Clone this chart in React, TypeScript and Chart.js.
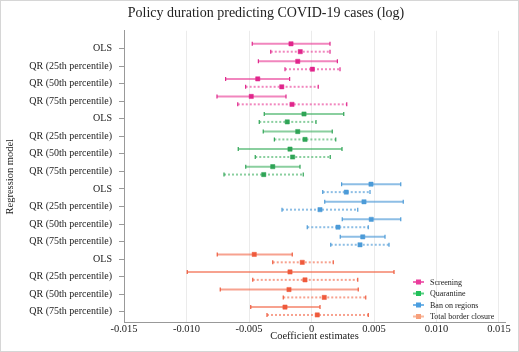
import React, { useEffect, useRef } from 'react';
import { Chart, registerables } from 'chart.js';

Chart.register(...registerables);

const chartTitle = 'Policy duration predicting COVID-19 cases (log)';
const xAxisTitle = 'Coefficient estimates';
const yAxisTitle = 'Regression model';

const models = ['OLS', 'QR (25th percentile)', 'QR (50th percentile)', 'QR (75th percentile)'];
const seriesNames = ['Screening', 'Quarantine', 'Ban on regions', 'Total border closure'];

const xTickValues = [-0.015, -0.01, -0.005, 0, 0.005, 0.01, 0.015];
const xTickLabels = ['-0.015', '-0.010', '-0.005', '0', '0.005', '0.010', '0.015'];

// Screening (solid = first specification, dotted = second specification)
const screeningSolidLow = [-0.00474, -0.00425, -0.00687, -0.00756];
const screeningSolidEst = [-0.00164, -0.0011, -0.0043, -0.00482];
const screeningSolidHigh = [0.00148, 0.00207, -0.00175, -0.00204];
const screeningDotLow = [-0.00326, -0.00212, -0.00527, -0.0059];
const screeningDotEst = [-0.0009, 0.00007, -0.00238, -0.00156];
const screeningDotHigh = [0.00148, 0.00228, 0.00054, 0.00282];

// Quarantine
const quarantineSolidLow = [-0.00378, -0.00386, -0.00586, -0.00526];
const quarantineSolidEst = [-0.0006, -0.0011, -0.00172, -0.0031];
const quarantineSolidHigh = [0.00258, 0.00166, 0.00244, -0.00092];
const quarantineDotLow = [-0.00418, -0.00297, -0.0045, -0.007];
const quarantineDotEst = [-0.00194, -0.00052, -0.00151, -0.00382];
const quarantineDotHigh = [0.00036, 0.00194, 0.0015, -0.00066];

// Ban on regions
const banSolidLow = [0.00241, 0.00106, 0.00246, 0.0023];
const banSolidEst = [0.00476, 0.0042, 0.00478, 0.0041];
const banSolidHigh = [0.00714, 0.00734, 0.00714, 0.00588];
const banDotLow = [0.0009, -0.00236, -0.00034, 0.00154];
const banDotEst = [0.00278, 0.00068, 0.00212, 0.00388];
const banDotHigh = [0.00468, 0.0037, 0.00454, 0.0062];

// Total border closure
const borderSolidLow = [-0.00754, -0.00994, -0.0073, -0.00486];
const borderSolidEst = [-0.00458, -0.00172, -0.0018, -0.00212];
const borderSolidHigh = [-0.00154, 0.0066, 0.00374, 0.00068];
const borderDotLow = [-0.0031, -0.0047, -0.00226, -0.00356];
const borderDotEst = [-0.00074, -0.00052, 0.00102, 0.00046];
const borderDotHigh = [0.00174, 0.0037, 0.00434, 0.00454];

const FONT = "'Liberation Serif', 'Times New Roman', serif";

const pointColors = ['#e0268c', '#2fa456', '#4c9bd8', '#ef5a3c'];
const lineColors = [
  'rgba(232,60,150,0.62)',
  'rgba(60,175,95,0.6)',
  'rgba(80,155,215,0.65)',
  'rgba(242,105,75,0.62)',
];
const legendColors = ['#ea3c9c', '#22c05a', '#4a9ee0', '#f7a07c'];

const seriesData = [
  {
    solid: { lo: screeningSolidLow, est: screeningSolidEst, hi: screeningSolidHigh },
    dot: { lo: screeningDotLow, est: screeningDotEst, hi: screeningDotHigh },
  },
  {
    solid: { lo: quarantineSolidLow, est: quarantineSolidEst, hi: quarantineSolidHigh },
    dot: { lo: quarantineDotLow, est: quarantineDotEst, hi: quarantineDotHigh },
  },
  {
    solid: { lo: banSolidLow, est: banSolidEst, hi: banSolidHigh },
    dot: { lo: banDotLow, est: banDotEst, hi: banDotHigh },
  },
  {
    solid: { lo: borderSolidLow, est: borderSolidEst, hi: borderSolidHigh },
    dot: { lo: borderDotLow, est: borderDotEst, hi: borderDotHigh },
  },
];

const rowLabels = seriesNames.flatMap(() => models);

const SOLID_OFFSET = -0.27;
const DOT_OFFSET = 0.18;

function buildDatasets() {
  const datasets: any[] = [];
  seriesData.forEach((s, si) => {
    (['solid', 'dot'] as const).forEach((kind) => {
      const d = s[kind];
      const off = kind === 'solid' ? SOLID_OFFSET : DOT_OFFSET;
      d.est.forEach((_, mi) => {
        const row = si * models.length + mi + off;
        datasets.push({
          type: 'line',
          order: 2,
          label: '',
          data: [
            { x: d.lo[mi], y: row },
            { x: d.hi[mi], y: row },
          ],
          borderColor: lineColors[si],
          borderWidth: 2,
          borderDash: kind === 'solid' ? [] : [2, 2],
          borderCapStyle: 'butt',
          pointStyle: 'line',
          pointRotation: 90,
          pointRadius: 2,
          pointBorderWidth: 1.2,
          pointBorderColor: pointColors[si],
          pointHoverRadius: 2,
          showLine: true,
          fill: false,
        });
      });
      datasets.push({
        type: 'scatter',
        order: 0,
        label: seriesNames[si],
        data: d.est.map((e, mi) => ({ x: e, y: si * models.length + mi + off })),
        pointStyle: 'rect',
        pointRadius: 3,
        pointHoverRadius: 3,
        pointBackgroundColor: pointColors[si],
        pointBorderColor: pointColors[si],
        pointBorderWidth: 0.5,
      });
    });
  });
  return datasets;
}

const legendPlugin = {
  id: 'customLegend',
  afterDraw(chart: any) {
    const { ctx, chartArea } = chart;
    ctx.save();
    ctx.font = `8px ${FONT}`;
    ctx.textBaseline = 'middle';
    ctx.textAlign = 'left';
    const n = seriesNames.length;
    seriesNames.forEach((name, i) => {
      const y = chartArea.bottom - 6.2 - (n - 1 - i) * 11.5;
      const x0 = chartArea.right - 92;
      ctx.globalAlpha = 0.75;
      ctx.strokeStyle = legendColors[i];
      ctx.lineWidth = 2;
      ctx.beginPath();
      ctx.moveTo(x0, y);
      ctx.lineTo(x0 + 11, y);
      ctx.stroke();
      ctx.globalAlpha = 1;
      ctx.fillStyle = legendColors[i];
      ctx.fillRect(x0 + 5.5 - 2.5, y - 2.5, 5, 5);
      ctx.fillStyle = '#222';
      ctx.fillText(name, x0 + 17, y + 0.5);
    });
    ctx.restore();
  },
};

const PAD_LEFT = 26;

export default function App() {
  const canvasRef = useRef<HTMLCanvasElement | null>(null);

  useEffect(() => {
    document.body.style.margin = '0';
    const canvas = canvasRef.current;
    if (!canvas) return;
    const chart = new Chart(canvas, {
      type: 'scatter',
      data: { datasets: buildDatasets() },
      plugins: [legendPlugin],
      options: {
        responsive: false,
        animation: false,
        layout: { padding: { left: PAD_LEFT, right: 13, top: 0, bottom: 0 } },
        plugins: {
          legend: { display: false },
          tooltip: { enabled: false },
          title: {
            display: true,
            text: chartTitle,
            color: '#222',
            font: { family: FONT, size: 14, weight: 'normal' },
            padding: { top: 3.6, bottom: 9.4 },
          },
        },
        scales: {
          x: {
            type: 'linear',
            min: -0.015,
            max: 0.01548,
            afterBuildTicks: (axis: any) => {
              axis.ticks = xTickValues.map((v) => ({ value: v }));
            },
            afterFit: (scale: any) => {
              scale.height = 28.3;
            },
            ticks: {
              callback: (_v: any, i: number) => xTickLabels[i],
              color: '#222',
              font: { family: FONT, size: 10.5, lineHeight: 1 },
              padding: 1,
              maxRotation: 0,
              autoSkip: false,
            },
            grid: { color: '#ebebeb', drawTicks: false, tickLength: 0 },
            border: { color: '#999', width: 1 },
            title: {
              display: true,
              text: xAxisTitle,
              color: '#222',
              font: { family: FONT, size: 10.5 },
              padding: { top: 0, bottom: 8.4 },
            },
          },
          y: {
            type: 'linear',
            reverse: true,
            min: -1.01,
            max: 15.62,
            afterBuildTicks: (axis: any) => {
              axis.ticks = rowLabels.map((_, i) => ({ value: i }));
            },
            afterFit: (scale: any) => {
              scale.width = 123 - PAD_LEFT;
            },
            ticks: {
              callback: (_v: any, i: number) => rowLabels[i],
              color: '#222',
              font: { family: FONT, size: 10 },
              padding: 7,
              autoSkip: false,
            },
            grid: { drawOnChartArea: false, drawTicks: true, tickLength: 5, color: '#999' },
            border: { color: '#999', width: 1 },
            title: {
              display: true,
              text: yAxisTitle,
              color: '#222',
              font: { family: FONT, size: 10.5 },
              padding: { top: 9 - PAD_LEFT - 6.3, bottom: 0 },
            },
          },
        },
      },
    } as any);
    return () => chart.destroy();
  }, []);

  return (
    <div
      style={{
        width: 519,
        height: 352,
        border: '1px solid #d6d6d6',
        boxSizing: 'border-box',
        background: '#fff',
        overflow: 'hidden',
      }}
    >
      <canvas ref={canvasRef} width={517} height={350} style={{ display: 'block', width: 517, height: 350 }} />
    </div>
  );
}
